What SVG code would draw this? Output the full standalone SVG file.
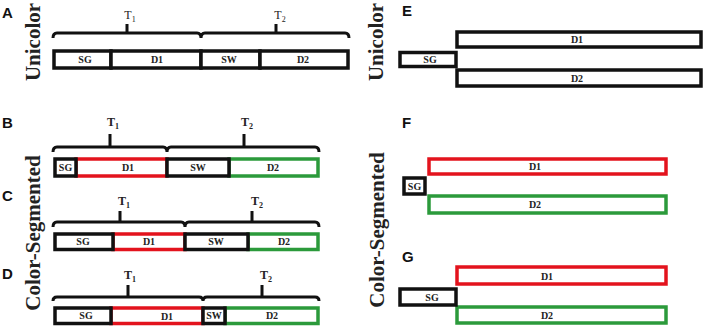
<svg xmlns="http://www.w3.org/2000/svg" width="709" height="329" viewBox="0 0 709 329">
<style>
.bk{fill:#fff;stroke:#111;stroke-width:3.5}
.rd{fill:#fff;stroke:#e3131d;stroke-width:3.5}
.gr{fill:#fff;stroke:#2b9a3b;stroke-width:3.5}
.lb{font-family:"Liberation Serif",serif;font-weight:bold;font-size:10px;fill:#222;text-anchor:middle}
.pl{font-family:"Liberation Sans",sans-serif;font-weight:bold;font-size:15px;fill:#111}
.vt{font-family:"Liberation Serif",serif;font-weight:bold;font-size:21px;fill:#222;text-anchor:middle}
.tt{font-family:"Liberation Serif",serif;font-size:12px;fill:#222;text-anchor:middle}
.ttb{font-weight:bold}
.br{fill:none;stroke:#111;stroke-width:3}
</style>
<rect width="709" height="329" fill="#fff"/>
<g id="side-labels">
<text class="vt" transform="translate(40,42) rotate(-90)">Unicolor</text>
<text class="vt" transform="translate(40,233) rotate(-90)">Color-Segmented</text>
<text class="vt" transform="translate(383,42) rotate(-90)">Unicolor</text>
<text class="vt" transform="translate(384,230) rotate(-90)">Color-Segmented</text>
</g>
<g id="panel-letters">
<text class="pl" x="2" y="18">A</text>
<text class="pl" x="2" y="128">B</text>
<text class="pl" x="2" y="201">C</text>
<text class="pl" x="2" y="279">D</text>
<text class="pl" x="402" y="16">E</text>
<text class="pl" x="402" y="128">F</text>
<text class="pl" x="402" y="262">G</text>
</g>
<g id="connectors">
<path class="br" d="M53,38 Q53,33 57,33 H197 Q201,33 201,38 Q201,33 205,33 H345 Q349,33 349,38 M127,33 V24 M276,33 V24"/>
<path class="br" d="M53,152 Q53,147 57,147 H163 Q167,147 167,152 Q167,147 171,147 H315 Q319,147 319,152 M110,147 V134 M244,147 V134"/>
<path class="br" d="M53,227 Q53,222 57,222 H181 Q185,222 185,227 Q185,222 189,222 H315 Q319,222 319,227 M120,222 V211 M252,222 V211"/>
<path class="br" d="M53,301 Q53,297 57,297 H199 Q203,297 203,301 Q203,297 207,297 H315 Q319,297 319,301 M128,297 V285 M262,297 V285"/>
</g>
<g id="timing-labels">
<text class="tt" x="130" y="19">T<tspan font-size="8" dy="3">1</tspan></text>
<text class="tt" x="280" y="19">T<tspan font-size="8" dy="3">2</tspan></text>
<text class="tt ttb" x="113" y="126">T<tspan font-size="8" dy="3">1</tspan></text>
<text class="tt ttb" x="247" y="126">T<tspan font-size="8" dy="3">2</tspan></text>
<text class="tt ttb" x="124" y="205">T<tspan font-size="8" dy="3">1</tspan></text>
<text class="tt ttb" x="257" y="205">T<tspan font-size="8" dy="3">2</tspan></text>
<text class="tt ttb" x="130" y="279">T<tspan font-size="8" dy="3">1</tspan></text>
<text class="tt ttb" x="266" y="279">T<tspan font-size="8" dy="3">2</tspan></text>
</g>
<g id="A-SG"><rect class="bk" x="54" y="51" width="57" height="17"/><text class="lb" x="85" y="63">SG</text></g>
<g id="A-D1"><rect class="bk" x="111" y="51" width="90" height="17"/><text class="lb" x="157" y="63">D1</text></g>
<g id="A-SW"><rect class="bk" x="201" y="51" width="59" height="17"/><text class="lb" x="229" y="63">SW</text></g>
<g id="A-D2"><rect class="bk" x="260" y="51" width="88" height="17"/><text class="lb" x="303" y="63">D2</text></g>

<g id="B-D1"><rect class="rd" x="76" y="159" width="91" height="17"/><text class="lb" x="128" y="171">D1</text></g>
<g id="B-SG"><rect class="bk" x="55" y="159" width="21" height="17"/><text class="lb" x="65.5" y="171" font-size="9">SG</text></g>
<g id="B-D2"><rect class="gr" x="229" y="159" width="89" height="17"/><text class="lb" x="273" y="171">D2</text></g>
<g id="B-SW"><rect class="bk" x="167" y="159" width="62" height="17"/><text class="lb" x="198" y="171">SW</text></g>

<g id="C-D1"><rect class="rd" x="113" y="234" width="72" height="15.5"/><text class="lb" x="149" y="245">D1</text></g>
<g id="C-SG"><rect class="bk" x="55" y="234" width="58" height="15.5"/><text class="lb" x="83" y="245">SG</text></g>
<g id="C-D2"><rect class="gr" x="248" y="234" width="70" height="15.5"/><text class="lb" x="284" y="245">D2</text></g>
<g id="C-SW"><rect class="bk" x="185" y="234" width="63" height="15.5"/><text class="lb" x="216" y="245">SW</text></g>

<g id="D-D1"><rect class="rd" x="111" y="308" width="92" height="15.5"/><text class="lb" x="167" y="320" font-size="12">D1</text></g>
<g id="D-SG"><rect class="bk" x="55" y="308" width="56" height="15.5"/><text class="lb" x="86" y="319">SG</text></g>
<g id="D-D2"><rect class="gr" x="225" y="308" width="93" height="15.5"/><text class="lb" x="272" y="319">D2</text></g>
<g id="D-SW"><rect class="bk" x="203" y="308" width="22" height="15.5"/><text class="lb" x="214" y="319">SW</text></g>

<g id="E-D1"><rect class="bk" x="457" y="32" width="244" height="15"/><text class="lb" x="577" y="43">D1</text></g>
<g id="E-D2"><rect class="bk" x="457" y="70" width="244" height="16"/><text class="lb" x="577" y="82">D2</text></g>
<g id="E-SG"><rect class="bk" x="400" y="52.5" width="56" height="14"/><text class="lb" x="430" y="63">SG</text></g>

<g id="F-D1"><rect class="rd" x="429" y="159" width="237" height="15"/><text class="lb" x="535" y="170">D1</text></g>
<g id="F-D2"><rect class="gr" x="429" y="196" width="237" height="17"/><text class="lb" x="535" y="208">D2</text></g>
<g id="F-SG"><rect class="bk" x="404" y="178" width="21" height="16"/><text class="lb" x="414.5" y="190" font-size="9">SG</text></g>

<g id="G-D1"><rect class="rd" x="457" y="267" width="209" height="17"/><text class="lb" x="547" y="280">D1</text></g>
<g id="G-D2"><rect class="gr" x="457" y="307" width="209" height="16"/><text class="lb" x="547" y="319">D2</text></g>
<g id="G-SG"><rect class="bk" x="400" y="289" width="56" height="16"/><text class="lb" x="432" y="301">SG</text></g>
</svg>
